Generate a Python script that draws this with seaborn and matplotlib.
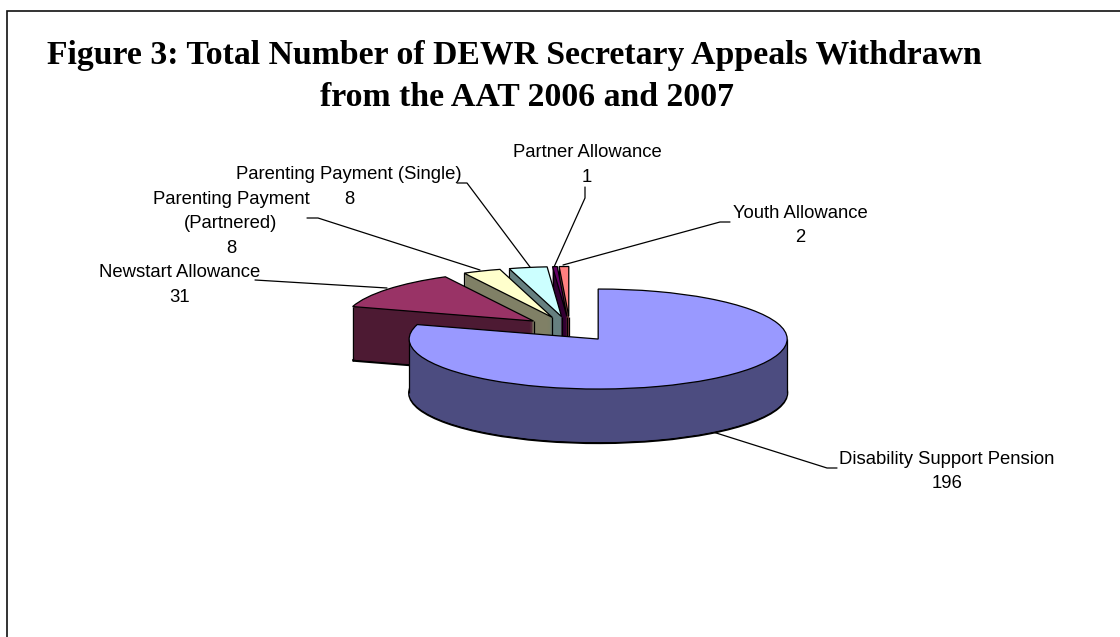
import math
import matplotlib
matplotlib.use("Agg")
import matplotlib.pyplot as plt
import seaborn as sns
from matplotlib.patches import Rectangle

# ---------------- data ----------------
categories = ["Disability Support Pension", "Newstart Allowance",
              "Parenting Payment (Partnered)", "Parenting Payment (Single)",
              "Partner Allowance", "Youth Allowance"]
values = [196, 31, 8, 8, 1, 2]
label_lines = [["Disability Support Pension", "196"],
               ["Newstart Allowance", "31"],
               ["Parenting Payment", "(Partnered)", "8"],
               ["Parenting Payment (Single)", "8"],
               ["Partner Allowance", "1"],
               ["Youth Allowance", "2"]]
top_colors = ["#9999FF", "#993366", "#FFFFCC", "#CCFFFF", "#660066", "#FF8080"]
side_colors = ["#4C4C80", "#4D1A33", "#808066", "#668080", "#330033", "#804040"]
title_lines = ["Figure 3: Total Number of DEWR Secretary Appeals Withdrawn",
               "from the AAT 2006 and 2007"]

# ---------------- layout ----------------
sns.set_theme(style="white")
plt.rcParams["font.family"] = ["Liberation Sans", "DejaVu Sans"]

W, H = 1120, 637
fig = plt.figure(figsize=(W / 100, H / 100), dpi=100)
fig.patch.set_facecolor("white")
ax = fig.add_axes([0, 0, 1, 1])

CX, CY, RX, RY = 570, 329, 189, 50   # pie centre / radii in pixels


def P(x, y):
    return (x - CX) / RX, (CY - y) / RY


depth = 54 / RY
n_layers = 54
explode = [0.25] * len(values)
back_to_front = [5, 4, 3, 2, 1, 0]
rank = {idx: r for r, idx in enumerate(back_to_front)}

# side layers (extrusion)
for k in range(n_layers, 0, -1):
    off = -k * depth / n_layers
    wedges, _ = ax.pie(values, colors=side_colors, startangle=90, counterclock=False,
                       explode=explode, radius=1, center=(0, off),
                       wedgeprops=dict(linewidth=1.6 if k == n_layers else 0,
                                       edgecolor="black"))
    for i, w in enumerate(wedges):
        w.set_zorder(rank[i] * 1000 + (n_layers - k) + 1)

# top faces
tops, _ = ax.pie(values, colors=top_colors, startangle=90, counterclock=False,
                 explode=explode, radius=1, center=(0, 0),
                 wedgeprops=dict(linewidth=0.9, edgecolor="black"))
for i, w in enumerate(tops):
    w.set_zorder(rank[i] * 1000 + n_layers + 10)
    cx, cy = w.center
    r = w.r
    pts = []
    if i == 0:
        for a in (0, -180):
            pts.append((cx + r * math.cos(math.radians(a)), cy + r * math.sin(math.radians(a))))
    else:
        pts.append((cx, cy))
        a = w.theta2
        pts.append((cx + r * math.cos(math.radians(a)), cy + r * math.sin(math.radians(a))))
    for (x, y) in pts:
        ax.plot([x, x], [y, y - depth], color="black", lw=0.9,
                zorder=rank[i] * 1000 + n_layers + 5, solid_capstyle="butt")

# labels (pixel layout)
label_pos = [(947, 464), (180, 277), (231, 204), (349, 179), (587, 157), (800, 218)]
pitch = 24.5
for lines, (lx, ly) in zip(label_lines, label_pos):
    for j, t in enumerate(lines):
        x, y = P(lx, ly + j * pitch)
        ax.text(x, y, t, ha="center", va="baseline", fontsize=13.3,
                color="black", zorder=20000)

# leader lines (pixel layout)
leaders = [[(837, 468), (827, 468), (713, 432)],
           [(255, 280), (387, 288)],
           [(307, 218), (318, 218), (480, 270)],
           [(457, 183), (467, 183), (530, 267)],
           [(585, 187), (585, 198), (554, 267)],
           [(730, 222), (720, 222), (563, 265)]]
for pts in leaders:
    xs, ys = zip(*[P(x, y) for x, y in pts])
    ax.plot(xs, ys, color="black", lw=0.9, zorder=500)

ax.set_aspect("auto")
ax.set_xlim((0 - CX) / RX, (W - CX) / RX)
ax.set_ylim((CY - H) / RY, CY / RY)
ax.axis("off")

# title
fig.text(514 / W, 1 - 64 / H, title_lines[0], ha="center", va="baseline",
         fontsize=24.3, fontweight="bold", color="black",
         family=["Liberation Serif", "DejaVu Serif"])
fig.text(527 / W, 1 - 106 / H, title_lines[1], ha="center", va="baseline",
         fontsize=24.3, fontweight="bold", color="black",
         family=["Liberation Serif", "DejaVu Serif"])

# frame
fig.add_artist(Rectangle((7 / W, -0.2), 1.2, (H - 11) / H + 0.2, transform=fig.transFigure,
                         fill=False, edgecolor="#111111", lw=1.2))

fig.savefig("out.png", dpi=100, facecolor="white")
